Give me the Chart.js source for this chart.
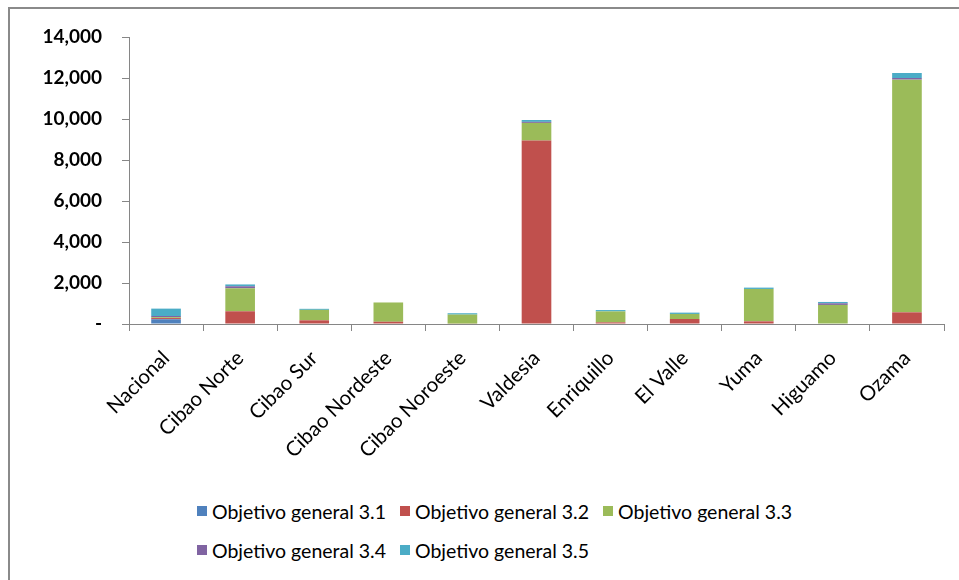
<!DOCTYPE html>
<html>
<head>
<meta charset="utf-8">
<script src="https://cdn.jsdelivr.net/npm/chart.js@4.4.0/dist/chart.umd.min.js"></script>
<style>
  html, body { margin: 0; padding: 0; background: #fff; }
  body { width: 959px; height: 580px; position: relative; overflow: hidden; font-family: Lato, "Open Sans", sans-serif; }
  #frame { position: absolute; left: 8px; top: 7px; width: 1000px; height: 700px; border: 2px solid #8a8a8a; }
  #wrap { position: absolute; left: 0; top: 0; width: 959px; height: 480px; }
  #legend { position: absolute; left: 197px; top: 499px; width: 720px; }
  .row { display: flex; height: 24px; margin-bottom: 15px; }
  .item { display: flex; align-items: center; font-size: 19.5px; color: #000; margin-right: 14px; height: 24px; }
  .sw { width: 10px; height: 10px; margin-right: 5px; }
</style>
</head>
<body>
<div id="frame"></div>
<div id="wrap"><canvas id="chart" width="959" height="480"></canvas></div>
<div id="legend"></div>
<script>
// regiones
const categories = ['Nacional', 'Cibao Norte', 'Cibao Sur', 'Cibao Nordeste', 'Cibao Noroeste',
  'Valdesia', 'Enriquillo', 'El Valle', 'Yuma', 'Higuamo', 'Ozama'];

const seriesNames = ['Objetivo general 3.1', 'Objetivo general 3.2', 'Objetivo general 3.3',
  'Objetivo general 3.4', 'Objetivo general 3.5'];

const obj31 = [230, 0, 0, 0, 0, 0, 0, 0, 0, 0, 0];
const obj32 = [60, 620, 180, 110, 20, 8950, 80, 245, 130, 0, 570];
const obj33 = [40, 1120, 510, 940, 440, 860, 535, 245, 1580, 930, 11350];
const obj34 = [60, 100, 0, 0, 0, 50, 0, 0, 0, 80, 80];
const obj35 = [360, 90, 50, 0, 65, 90, 65, 65, 65, 65, 245];

const yTicks = [0, 2000, 4000, 6000, 8000, 10000, 12000, 14000];

const colors = ['#4F81BD', '#C0504D', '#9BBB59', '#8064A2', '#4BACC6'];
const allSeries = [obj31, obj32, obj33, obj34, obj35];

const datasets = allSeries.map((vals, i) => ({
  label: seriesNames[i],
  data: vals,
  backgroundColor: colors[i],
  borderWidth: 0,
  categoryPercentage: 1,
  barPercentage: 0.4
}));

const axisGray = '#868686';

new Chart(document.getElementById('chart'), {
  type: 'bar',
  data: { labels: categories, datasets },
  options: {
    responsive: false,
    animation: false,
    layout: { padding: { top: 37, right: 15, bottom: 6, left: 0 } },
    plugins: { legend: { display: false }, tooltip: { enabled: false } },
    scales: {
      x: {
        stacked: true,
        grid: { display: true, drawOnChartArea: false, color: axisGray, tickLength: 7, offset: true },
        border: { color: axisGray, width: 1 },
        ticks: {
          color: '#000', minRotation: 45, maxRotation: 45, padding: 15,
          font: { family: 'Lato', size: 20.5 }
        },
        afterFit: s => { s.height = 150; }
      },
      y: {
        stacked: true,
        min: 0, max: 14000,
        afterBuildTicks: s => { s.ticks = yTicks.map(v => ({ value: v })); },
        grid: { display: true, drawOnChartArea: false, color: axisGray, tickLength: 7 },
        border: { color: axisGray, width: 1 },
        ticks: {
          color: '#000', padding: 20,
          font: { family: 'Lato', size: 19, weight: 'bold' },
          callback: v => v === 0 ? '-' : v.toLocaleString('en-US')
        },
        afterFit: s => { s.width = 129; }
      }
    }
  }
});

// leyenda en html (dos filas como en el original)
const leg = document.getElementById('legend');
[[0, 1, 2], [3, 4]].forEach(idx => {
  const row = document.createElement('div');
  row.className = 'row';
  idx.forEach(i => {
    const it = document.createElement('div');
    it.className = 'item';
    it.innerHTML = `<span class="sw" style="background:${colors[i]}"></span><span>${seriesNames[i]}</span>`;
    row.appendChild(it);
  });
  leg.appendChild(row);
});
</script>
</body>
</html>
